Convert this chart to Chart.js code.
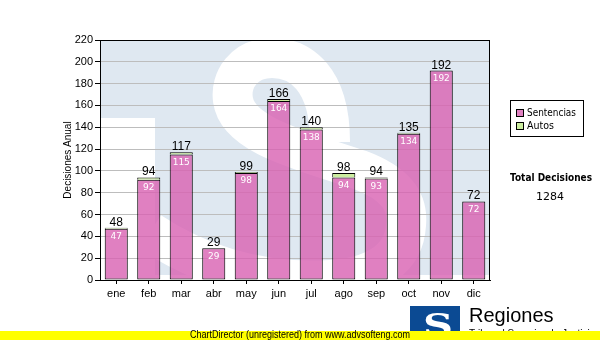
<!DOCTYPE html>
<html>
<head>
<meta charset="utf-8">
<script src="https://cdn.jsdelivr.net/npm/chart.js@4.4.1/dist/chart.umd.min.js"></script>
<style>
  html, body { margin: 0; padding: 0; background: #ffffff; }
  #wrap { width: 600px; height: 340px; position: relative; }
</style>
</head>
<body>
<div id="wrap"><canvas id="c" width="600" height="340"></canvas></div>
<script>
const categories = ['ene', 'feb', 'mar', 'abr', 'may', 'jun', 'jul', 'ago', 'sep', 'oct', 'nov', 'dic'];
const sentencias = [47, 92, 115, 29, 98, 164, 138, 94, 93, 134, 192, 72];
const autos = [1, 2, 2, 0, 1, 2, 2, 4, 1, 1, 0, 0];
const yMin = 0;
const yMax = 220;
const yStep = 20;
const seriesNames = ['Sentencias', 'Autos'];
const yTitle = 'Decisiones Anual';
const totalTitle = 'Total Decisiones';

const pinkFill = 'rgba(216, 96, 178, 0.8)';
const greenFill = '#cceea0';
const totals = sentencias.map((v, i) => v + autos[i]);
const grandTotal = totals.reduce((a, b) => a + b, 0);

const decorPlugin = {
  id: 'decor',
  beforeDraw(chart) {
    const ctx = chart.ctx;
    const a = chart.chartArea;
    ctx.save();
    ctx.fillStyle = '#ffffff';
    ctx.fillRect(0, 0, chart.width, chart.height);
    ctx.beginPath();
    ctx.rect(a.left, a.top, a.right - a.left, a.bottom - a.top);
    ctx.clip();
    ctx.fillStyle = '#dfe8f1';
    ctx.fillRect(a.left, a.top, a.right - a.left, a.bottom - a.top);
    ctx.fillStyle = '#ffffff';
    ctx.fillRect(a.left, a.top + 78, 55, a.bottom - a.top - 78);
    ctx.fillRect(a.left, a.bottom - 5, a.right - a.left, 5);
    // watermark "S" drawn as a thick white stroke
    ctx.strokeStyle = '#ffffff';
    ctx.lineCap = 'butt';
    ctx.lineJoin = 'round';
    ctx.lineWidth = 40;
    ctx.beginPath();
    ctx.moveTo(330, 142);
    ctx.bezierCurveTo(330, 78, 300, 58, 272, 58);
    ctx.bezierCurveTo(244, 58, 230, 80, 233, 100);
    ctx.bezierCurveTo(238, 135, 300, 150, 360, 170);
    ctx.bezierCurveTo(400, 185, 408, 205, 406, 225);
    ctx.bezierCurveTo(404, 262, 370, 278, 330, 280);
    ctx.bezierCurveTo(260, 284, 200, 265, 150, 232);
    ctx.stroke();
    ctx.restore();
  },
  afterDatasetsDraw(chart) {
    const ctx = chart.ctx;
    const m0 = chart.getDatasetMeta(0);
    const ys = chart.scales.y;
    ctx.save();
    ctx.textAlign = 'center';
    for (let i = 0; i < categories.length; i++) {
      const bar = m0.data[i];
      const x = bar.x;
      const topY = ys.getPixelForValue(totals[i]);
      ctx.fillStyle = '#000000';
      ctx.font = '12px "Liberation Sans", Arial, sans-serif';
      ctx.textBaseline = 'alphabetic';
      ctx.fillText(String(totals[i]), x, topY - 2);
      ctx.fillStyle = '#ffffff';
      ctx.font = '9px "DejaVu Sans", sans-serif';
      ctx.textBaseline = 'middle';
      ctx.fillText(String(sentencias[i]), x, bar.y + 8);
    }
    ctx.restore();
  },
  afterDraw(chart) {
    const ctx = chart.ctx;
    const a = chart.chartArea;
    ctx.save();
    ctx.strokeStyle = '#000000';
    ctx.lineWidth = 1;
    ctx.strokeRect(a.left + 0.5, a.top + 0.5, a.right - a.left - 1, a.bottom - a.top);
    // y title
    ctx.save();
    ctx.translate(71, 160);
    ctx.rotate(-Math.PI / 2);
    ctx.fillStyle = '#000000';
    ctx.font = '10px "Liberation Sans", Arial, sans-serif';
    ctx.textAlign = 'center';
    ctx.textBaseline = 'alphabetic';
    ctx.fillText(yTitle, 0, 0);
    ctx.restore();
    // legend
    ctx.fillStyle = '#ffffff';
    ctx.fillRect(510, 100, 73, 36);
    ctx.strokeRect(510.5, 100.5, 73, 36);
    const colors = [pinkFill, greenFill];
    const ly = [113, 126];
    for (let k = 0; k < 2; k++) {
      ctx.fillStyle = colors[k];
      ctx.fillRect(516, ly[k] - 4, 8, 8);
      ctx.strokeStyle = '#000000';
      ctx.strokeRect(516.5, ly[k] - 3.5, 7, 7);
      ctx.fillStyle = '#000000';
      ctx.font = '11px "DejaVu Sans", sans-serif';
      ctx.textAlign = 'left';
      ctx.textBaseline = 'middle';
      ctx.fillText(seriesNames[k], 527, ly[k] + 0.5, k === 0 ? 49 : 27);
    }
    // totals
    ctx.textAlign = 'center';
    ctx.font = 'bold 11px "DejaVu Sans", sans-serif';
    ctx.fillText(totalTitle, 551, 178, 82);
    ctx.font = '11px "DejaVu Sans", sans-serif';
    ctx.fillText(String(grandTotal), 550, 197);
    // logo
    ctx.fillStyle = '#0b4a93';
    ctx.fillRect(410, 306, 50, 28);
    ctx.save();
    ctx.beginPath();
    ctx.rect(410, 306, 50, 28);
    ctx.clip();
    ctx.fillStyle = '#ffffff';
    ctx.font = 'bold 32px "DejaVu Serif"';
    ctx.translate(438, 336);
    ctx.scale(1.3, 1);
    ctx.textAlign = 'center';
    ctx.textBaseline = 'alphabetic';
    ctx.fillText('S', 0, 0);
    ctx.restore();
    ctx.fillStyle = '#0b4a93';
    ctx.fillRect(410, 306, 16, 5);
    ctx.fillStyle = '#000000';
    ctx.font = '20px "Liberation Sans", Arial, sans-serif';
    ctx.textAlign = 'left';
    ctx.textBaseline = 'alphabetic';
    ctx.fillText('Regiones', 469, 322);
    ctx.font = '10px "Liberation Sans", Arial, sans-serif';
    ctx.fillText('Tribunal Superior de Justicia', 469, 337);
    // yellow bar
    ctx.fillStyle = '#ffff00';
    ctx.fillRect(0, 331, 600, 9);
    ctx.fillStyle = '#000000';
    ctx.font = '10px "Liberation Sans", Arial, sans-serif';
    ctx.textBaseline = 'middle';
    ctx.fillText('ChartDirector (unregistered) from www.advsofteng.com', 190, 335.5, 220);
    ctx.restore();
  }
};

new Chart(document.getElementById('c'), {
  type: 'bar',
  data: {
    labels: categories,
    datasets: [
      {
        label: seriesNames[0],
        data: sentencias,
        backgroundColor: pinkFill,
        borderColor: '#000000',
        borderWidth: 1,
        borderSkipped: false,
        categoryPercentage: 1,
        barPercentage: 0.71
      },
      {
        label: seriesNames[1],
        data: autos.map(v => (v === 0 ? null : v)),
        backgroundColor: greenFill,
        borderColor: '#000000',
        borderWidth: { top: 1, left: 1, right: 1, bottom: 0 },
        borderSkipped: false,
        categoryPercentage: 1,
        barPercentage: 0.71
      }
    ]
  },
  options: {
    responsive: false,
    animation: false,
    events: [],
    layout: { padding: { left: 0, top: 40, right: 110, bottom: 0 } },
    plugins: { legend: { display: false }, tooltip: { enabled: false } },
    scales: {
      x: {
        stacked: true,
        afterFit(s) { s.height = 60; },
        grid: { offset: false, drawOnChartArea: false, drawTicks: true, tickLength: 4, tickColor: '#000000' },
        border: { display: true, color: '#000000', width: 1 },
        ticks: { color: '#000000', padding: 3, font: { family: '"Liberation Sans", Arial, sans-serif', size: 11 }, maxRotation: 0 }
      },
      y: {
        stacked: true,
        min: yMin,
        max: yMax,
        afterFit(s) { s.width = 100; },
        grid: { color: '#bdbdbd', drawTicks: true, tickLength: 5, tickColor: '#000000' },
        border: { display: true, color: '#000000', width: 1 },
        ticks: { stepSize: yStep, color: '#000000', padding: 2, font: { family: '"Liberation Sans", Arial, sans-serif', size: 11 } }
      }
    }
  },
  plugins: [decorPlugin]
});
</script>
</body>
</html>
